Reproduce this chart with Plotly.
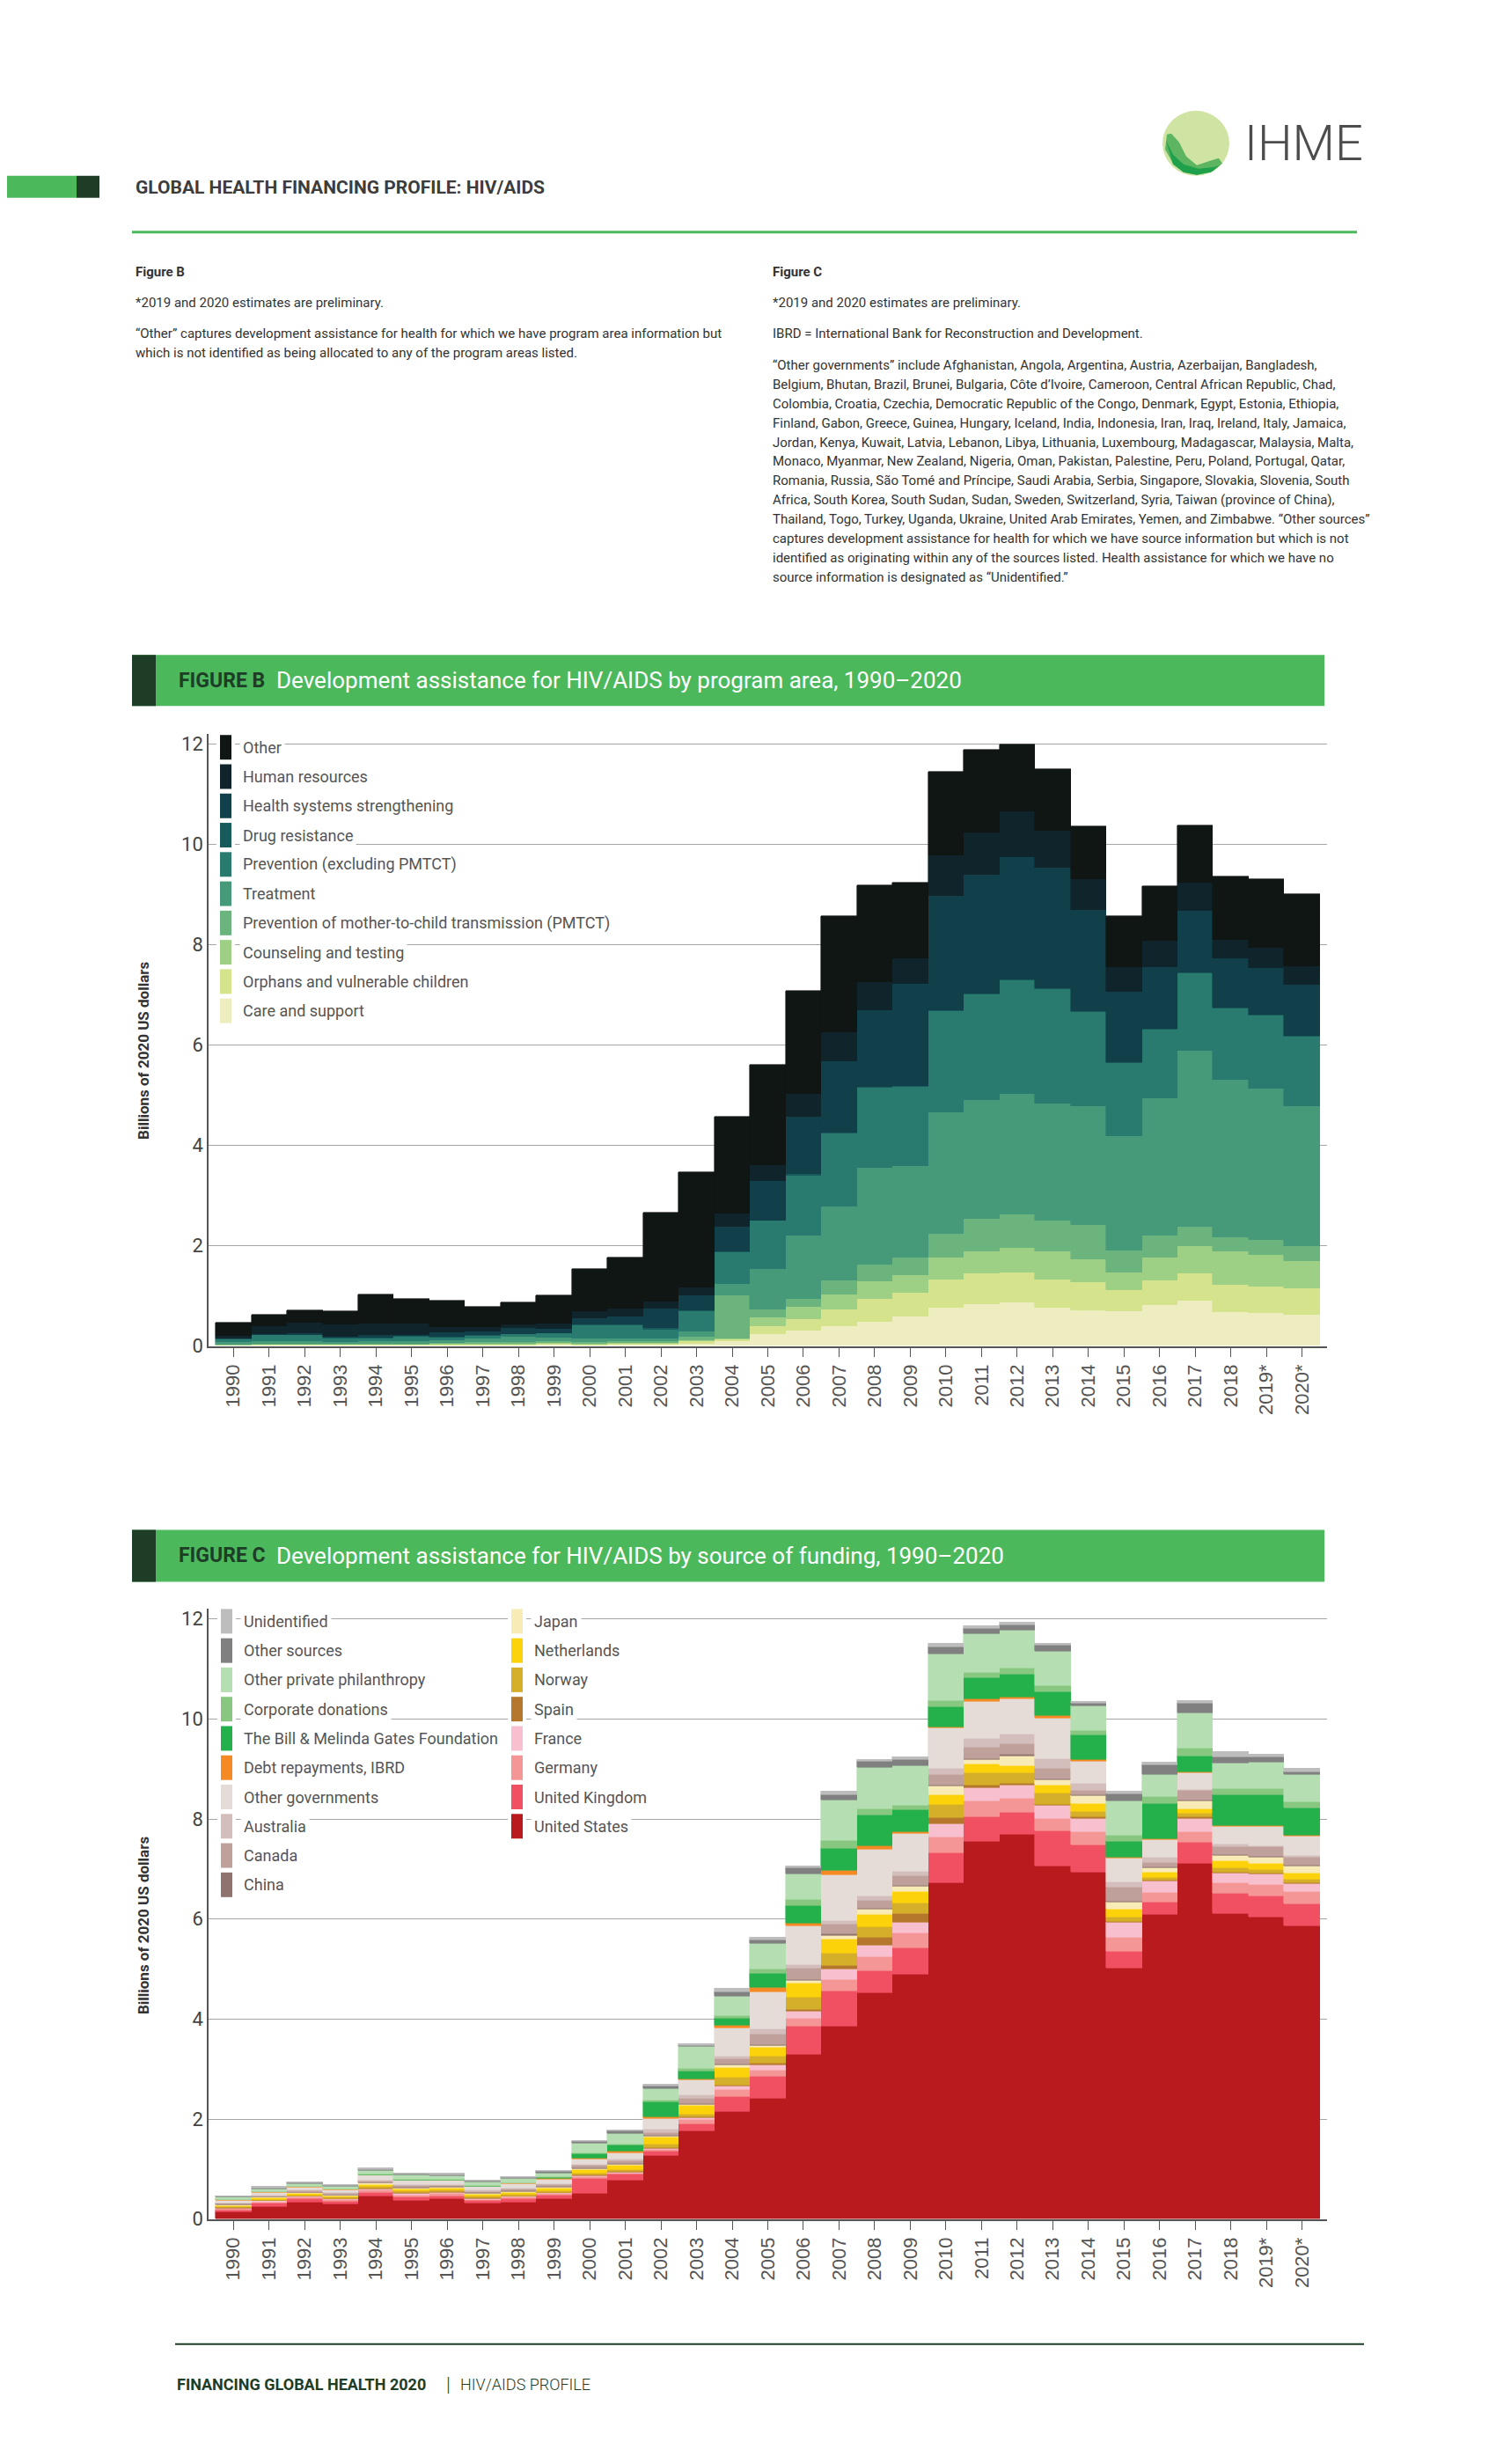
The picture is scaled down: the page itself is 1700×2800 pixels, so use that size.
import plotly.graph_objects as go

OFF = 8            # default page body margin
W, H = 1700 - 2 * OFF, 2800 - 2 * OFF   # figure fits the 1700x2800 page exactly
STRETCH = 0.0042   # small vertical calibration of measured positions

def px(x):
    return (x - OFF) / W

def py(y):
    y = y + (y - 263) * STRETCH
    return 1 - (y - OFF) / H

# ---------------- DATA ----------------
years = ["1990", "1991", "1992", "1993", "1994", "1995", "1996", "1997", "1998", "1999",
         "2000", "2001", "2002", "2003", "2004", "2005", "2006", "2007", "2008", "2009",
         "2010", "2011", "2012", "2013", "2014", "2015", "2016", "2017", "2018", "2019*", "2020*"]

# Figure B: program areas (billions of 2020 US dollars), stacked bottom -> top
care_support = [.005, .01, .01, .01, .01, .01, .01, .01, .01, .02, .01, .02, .02, .04, .10, .24, .30, .40, .48, .58,
                .77, .84, .86, .77, .71, .69, .82, .90, .67, .65, .63]
orphans = [.005, .01, .01, .01, .01, .01, .01, .01, .01, .02, .02, .02, .02, .05, .03, .15, .23, .33, .45, .48,
           .56, .60, .61, .56, .56, .42, .48, .55, .55, .53, .51]
counseling = [.01, .01, .01, .01, .01, .01, .02, .02, .02, .02, .02, .02, .02, .03, .02, .18, .25, .30, .35, .35,
              .43, .45, .49, .56, .45, .35, .46, .54, .66, .64, .55]
pmtct = [.01, .01, .02, .02, .02, .02, .02, .03, .03, .03, .03, .03, .03, .06, .85, .15, .15, .27, .35, .36,
         .48, .65, .67, .60, .69, .45, .44, .39, .28, .29, .30]
treatment = [.05, .05, .04, .03, .04, .04, .06, .07, .12, .08, .06, .06, .06, .10, .23, .81, 1.27, 1.48, 1.92, 1.81,
             2.42, 2.37, 2.40, 2.35, 2.37, 2.28, 2.74, 3.51, 3.15, 3.02, 2.79]
prevention = [.05, .12, .12, .07, .06, .10, .05, .06, .04, .08, .27, .26, .18, .41, .64, .96, 1.20, 1.46, 1.59, 1.59,
              2.02, 2.09, 2.25, 2.27, 1.87, 1.44, 1.36, 1.54, 1.42, 1.45, 1.38]
drug_resistance = [.01, .01, .01, .01, .01, .01, .01, .01, .01, .01, .02, .02, .02, .02, .02, .01, .02, .02, .02, .02,
                   .02, .02, .02, .02, .02, .02, .02, .02, .02, .02, .02]
hss = [.01, .01, .03, .03, .05, .02, .09, .08, .11, .08, .12, .16, .39, .29, .48, .79, 1.14, 1.41, 1.54, 2.03,
       2.27, 2.37, 2.45, 2.40, 2.02, 1.41, 1.23, 1.23, .97, .94, 1.02]
human_resources = [.05, .17, .22, .24, .24, .23, .10, .09, .07, .10, .15, .15, .15, .17, .27, .31, .47, .59, .56, .51,
                   .81, .85, .90, .74, .61, .49, .52, .56, .38, .40, .36]
other_area = [.26, .22, .24, .26, .57, .48, .54, .40, .45, .57, .84, 1.02, 1.77, 2.29, 1.93, 2.01, 2.04, 2.31, 1.92, 1.51,
              1.67, 1.65, 1.34, 1.23, 1.06, 1.02, 1.09, 1.13, 1.26, 1.37, 1.44]

# Figure C: sources of funding, stacked bottom -> top
us = [.14, .26, .35, .30, .47, .38, .41, .32, .35, .41, .51, .79, 1.28, 1.77, 2.15, 2.42, 3.30, 3.86, 4.53, 4.90,
      6.73, 7.55, 7.69, 7.06, 6.94, 5.02, 6.10, 7.11, 6.11, 6.04, 5.86]
uk = [.05, .06, .06, .06, .07, .07, .06, .05, .06, .07, .31, .11, .08, .14, .30, .44, .56, .70, .44, .52,
      .60, .49, .45, .71, .55, .34, .24, .42, .40, .42, .44]
germany = [.02, .03, .03, .03, .04, .04, .04, .03, .03, .03, .03, .02, .04, .08, .15, .12, .16, .24, .28, .30,
           .31, .32, .27, .24, .26, .27, .20, .21, .21, .23, .26]
france = [.01, .02, .02, .02, .03, .03, .03, .02, .02, .02, .02, .02, .02, .04, .07, .11, .14, .20, .23, .21,
          .26, .27, .27, .26, .27, .30, .22, .28, .20, .21, .15]
spain = [.01, .01, .01, .01, .02, .02, .01, .01, .01, .01, .02, .02, .02, .02, .02, .04, .04, .08, .16, .18,
         .13, .06, .03, .02, .02, .02, .02, .02, .02, .02, .02]
norway = [.02, .02, .02, .02, .03, .03, .03, .03, .03, .03, .04, .04, .06, .05, .15, .14, .24, .24, .21, .21,
          .26, .23, .22, .24, .12, .10, .06, .07, .08, .07, .06]
netherlands = [.03, .03, .03, .03, .04, .04, .04, .04, .04, .05, .06, .08, .14, .17, .19, .16, .28, .28, .25, .23,
               .19, .18, .13, .15, .15, .15, .10, .10, .14, .12, .13]
japan = [.01, .01, .01, .01, .02, .02, .02, .02, .02, .02, .02, .02, .02, .03, .05, .04, .06, .08, .10, .10,
         .18, .09, .21, .10, .16, .14, .08, .16, .12, .13, .14]
china = [.01, .01, .01, .01, .01, .01, .01, .01, .01, .01, .01, .01, .01, .02, .02, .02, .02, .02, .02, .02,
         .02, .02, .02, .02, .02, .02, .02, .02, .02, .02, .02]
canada = [.02, .02, .03, .03, .04, .04, .03, .03, .04, .04, .06, .06, .07, .10, .11, .22, .23, .20, .16, .20,
          .21, .23, .22, .21, .08, .28, .10, .19, .15, .19, .16]
australia = [.01, .01, .01, .01, .02, .02, .02, .02, .02, .02, .02, .04, .06, .06, .06, .10, .06, .08, .09, .08,
             .13, .17, .19, .20, .15, .11, .10, .02, .06, .02, .03]
other_governments = [.05, .06, .06, .06, .09, .08, .08, .07, .08, .09, .10, .12, .22, .30, .56, .73, .77, .91, .93, .77,
                     .80, .75, .70, .80, .44, .47, .35, .32, .34, .38, .39]
debt_ibrd = [.01, .01, .01, .01, .01, .01, .01, .01, .01, .01, .02, .03, .02, .02, .04, .10, .06, .08, .06, .02,
             .02, .04, .04, .06, .03, .02, .02, .03, .03, .03, .02]
gates = [0, 0, 0, 0, 0, 0, 0, 0, 0, .03, .09, .12, .30, .16, .14, .27, .35, .45, .62, .44,
         .40, .43, .45, .48, .49, .32, .70, .32, .61, .61, .55]
corporate = [.01, .01, .01, .01, .01, .01, .01, .01, .01, .01, .02, .02, .04, .05, .07, .09, .12, .15, .13, .10,
             .13, .11, .13, .12, .10, .11, .14, .15, .12, .12, .12]
other_private = [.04, .05, .05, .05, .08, .08, .07, .07, .08, .08, .19, .22, .24, .44, .37, .52, .52, .81, .82, .79,
                 .93, .76, .75, .69, .48, .70, .45, .71, .51, .53, .54]
other_sources = [.02, .02, .02, .02, .02, .02, .02, .02, .02, .02, .04, .04, .05, .02, .10, .06, .11, .11, .12, .13,
                 .15, .12, .12, .11, .06, .13, .18, .18, .13, .10, .06]
unidentified = [.01, .02, .02, .02, .03, .03, .03, .03, .03, .03, .02, .03, .03, .03, .06, .05, .04, .06, .05, .05,
                .06, .05, .05, .04, .04, .05, .05, .06, .10, .05, .06]

series_b = [  # bottom -> top
    ("Care and support", care_support, "#EEEDC0"),
    ("Orphans and vulnerable children", orphans, "#D4E38C"),
    ("Counseling and testing", counseling, "#9DCF85"),
    ("Prevention of mother-to-child transmission (PMTCT)", pmtct, "#6CB47E"),
    ("Treatment", treatment, "#469A7A"),
    ("Prevention (excluding PMTCT)", prevention, "#287B6E"),
    ("Drug resistance", drug_resistance, "#175B5C"),
    ("Health systems strengthening", hss, "#11404A"),
    ("Human resources", human_resources, "#10252B"),
    ("Other", other_area, "#101614"),
]

series_c = [  # bottom -> top
    ("United States", us, "#B81A1E"),
    ("United Kingdom", uk, "#F05062"),
    ("Germany", germany, "#F49696"),
    ("France", france, "#F8C0CF"),
    ("Spain", spain, "#B5772B"),
    ("Norway", norway, "#D5AF2A"),
    ("Netherlands", netherlands, "#FCD20A"),
    ("Japan", japan, "#F9EBB5"),
    ("China", china, "#8E736E"),
    ("Canada", canada, "#C0A09A"),
    ("Australia", australia, "#D4BEBC"),
    ("Other governments", other_governments, "#E5DCD8"),
    ("Debt repayments, IBRD", debt_ibrd, "#F58A25"),
    ("The Bill & Melinda Gates Foundation", gates, "#24B04B"),
    ("Corporate donations", corporate, "#88C780"),
    ("Other private philanthropy", other_private, "#B5DEB2"),
    ("Other sources", other_sources, "#808080"),
    ("Unidentified", unidentified, "#BDBDBD"),
]

FONT = "Roboto"
TXT = "#333333"
GREEN = "#4CB85C"
DARK = "#1E3D26"

fig = go.Figure()
for name, vals, col in series_b:
    fig.add_trace(go.Bar(x=years, y=vals, name=name, xaxis="x", yaxis="y",
                         marker=dict(color=col, line=dict(color=col, width=0.6)),
                         showlegend=False, hoverinfo="x+y+name"))
for name, vals, col in series_c:
    fig.add_trace(go.Bar(x=years, y=vals, name=name, xaxis="x2", yaxis="y2",
                         marker=dict(color=col, line=dict(color=col, width=0.6)),
                         showlegend=False, hoverinfo="x+y+name"))

XDOM = [px(237), px(1508)]
B_BOT, B_TOP = 1531, 835
C_BOT, C_TOP = 2524, 1830

xaxis_common = dict(type="category", range=[-0.7, 30.7], tickangle=-90, ticks="outside", ticklen=10,
                    tickcolor="#555555", tickwidth=1, showline=True, linecolor="#555555", linewidth=2,
                    tickfont=dict(family="Liberation Sans", size=22, color="#555555"),
                    showgrid=False, zeroline=False, fixedrange=True)
yaxis_common = dict(range=[0, 12.2], tickvals=[0, 2, 4, 6, 8, 10, 12], showgrid=True, gridcolor="#A6A6A6",
                    gridwidth=1.2, showline=True, linecolor="#555555", linewidth=1.5, ticks="",
                    tickfont=dict(family=FONT, size=22, color="#444444"), zeroline=False, fixedrange=True)

fig.update_layout(
    width=W, height=H, autosize=False,
    margin=dict(l=0, r=0, t=0, b=0),
    paper_bgcolor="white", plot_bgcolor="white",
    barmode="stack", bargap=0, showlegend=False,
    font=dict(family=FONT, color=TXT),
    xaxis=dict(domain=XDOM, anchor="y", **xaxis_common),
    yaxis=dict(domain=[py(B_BOT), py(B_TOP)], anchor="x", **yaxis_common),
    xaxis2=dict(domain=XDOM, anchor="y2", **xaxis_common),
    yaxis2=dict(domain=[py(C_BOT), py(C_TOP)], anchor="x2", **yaxis_common),
)

shapes = []
ann = []

def rect(x0, y0, x1, y1, color, line_color=None, lw=0):
    shapes.append(dict(type="rect", xref="paper", yref="paper", x0=px(x0), x1=px(x1), y0=py(y1), y1=py(y0),
                       fillcolor=color, line=dict(color=line_color or color, width=lw), layer="above"))

def hline(x0, x1, y, color, w):
    shapes.append(dict(type="line", xref="paper", yref="paper", x0=px(x0), x1=px(x1), y0=py(y), y1=py(y),
                       line=dict(color=color, width=w), layer="above"))

def text(x, y, s, size=13, color=TXT, bold=False, anchor="left", bg=None, angle=0, family=FONT, weight=None, pad=1):
    f = dict(family=family, size=size, color=color)
    if bold:
        f["weight"] = "bold"
    elif weight is not None:
        f["weight"] = weight
    a = dict(xref="paper", yref="paper", x=px(x), y=py(y), text=s, showarrow=False, xanchor=anchor,
             yanchor="middle", font=f, textangle=angle, borderpad=pad)
    if bg:
        a["bgcolor"] = bg
    ann.append(a)

# ---------- header ----------
rect(OFF, 200, 87, 225, GREEN)
rect(87, 200, 113, 225, DARK)
text(152, 213, "GLOBAL HEALTH FINANCING PROFILE: HIV/AIDS", size=21, color="#3C3C3C", bold=True)
hline(150, 1542, 264, GREEN, 3)

# IHME logo
shapes.append(dict(type="circle", xref="paper", yref="paper", x0=px(1321), x1=px(1397), y0=py(200), y1=py(126),
                   fillcolor="#CFE4A3", line=dict(width=0), layer="above"))

def path_px(pts):
    return "M " + " L ".join(f"{px(x):.5f},{py(y):.5f}" for x, y in pts) + " Z"

shapes.append(dict(type="path", xref="paper", yref="paper",
                   path=path_px([(1326, 153), (1331, 152), (1340, 162), (1348, 178), (1360, 188), (1375, 183),
                                 (1385, 180), (1389, 186), (1378, 195), (1360, 199), (1345, 196), (1333, 186),
                                 (1324, 170)]),
                   fillcolor="#5DB562", line=dict(width=0), layer="above"))
shapes.append(dict(type="path", xref="paper", yref="paper",
                   path=path_px([(1325, 160), (1333, 176), (1345, 187), (1362, 192), (1380, 190), (1386, 188),
                                 (1376, 196), (1360, 199), (1345, 196), (1333, 187)]),
                   fillcolor="#1FA04B", line=dict(width=0), layer="above"))
text(1412, 163, "IHME", size=56, color="#4D4D4D", weight=300)

# ---------- notes ----------
NS = 15
text(152, 309, "Figure B", size=15, bold=True, color="#333333")
text(152, 344, "*2019 and 2020 estimates are preliminary.", size=NS)
text(152, 379, "“Other” captures development assistance for health for which we have program area information but", size=NS)
text(152, 401, "which is not identified as being allocated to any of the program areas listed.", size=NS)

text(876, 309, "Figure C", size=15, bold=True, color="#333333")
text(876, 344, "*2019 and 2020 estimates are preliminary.", size=NS)
text(876, 379, "IBRD = International Bank for Reconstruction and Development.", size=NS)
notes_c = [
    "“Other governments” include Afghanistan, Angola, Argentina, Austria, Azerbaijan, Bangladesh,",
    "Belgium, Bhutan, Brazil, Brunei, Bulgaria, Côte d’Ivoire, Cameroon, Central African Republic, Chad,",
    "Colombia, Croatia, Czechia, Democratic Republic of the Congo, Denmark, Egypt, Estonia, Ethiopia,",
    "Finland, Gabon, Greece, Guinea, Hungary, Iceland, India, Indonesia, Iran, Iraq, Ireland, Italy, Jamaica,",
    "Jordan, Kenya, Kuwait, Latvia, Lebanon, Libya, Lithuania, Luxembourg, Madagascar, Malaysia, Malta,",
    "Monaco, Myanmar, New Zealand, Nigeria, Oman, Pakistan, Palestine, Peru, Poland, Portugal, Qatar,",
    "Romania, Russia, São Tomé and Príncipe, Saudi Arabia, Serbia, Singapore, Slovakia, Slovenia, South",
    "Africa, South Korea, South Sudan, Sudan, Sweden, Switzerland, Syria, Taiwan (province of China),",
    "Thailand, Togo, Turkey, Uganda, Ukraine, United Arab Emirates, Yemen, and Zimbabwe. “Other sources”",
    "captures development assistance for health for which we have source information but which is not",
    "identified as originating within any of the sources listed. Health assistance for which we have no",
    "source information is designated as “Unidentified.”",
]
for i, line in enumerate(notes_c):
    text(876, 415 + 22 * i, line, size=NS)

# ---------- banners ----------
def banner(y0, y1, label, title):
    rect(150, y0, 1505, y1, GREEN)
    rect(150, y0, 177, y1, DARK)
    yc = (y0 + y1) / 2
    text(201, yc, label, size=23, color=DARK, bold=True)
    text(312, yc, title, size=26, color="white")

banner(745, 803, "FIGURE B", "Development assistance for HIV/AIDS by program area, 1990–2020")
banner(1740, 1799, "FIGURE C", "Development assistance for HIV/AIDS by source of funding, 1990–2020")

# ---------- axis titles ----------
text(163, 1195, "Billions of 2020 US dollars", size=17, bold=True, color="#333333", anchor="center", angle=-90)
text(163, 2190, "Billions of 2020 US dollars", size=17, bold=True, color="#333333", anchor="center", angle=-90)

# ---------- custom legends ----------
ROW = 33.3

def legend_column(items, x_sw, top):
    n = len(items)
    rect(x_sw - 4, top - 3, x_sw + 17, top + ROW * (n - 1) + 31, "white")
    for i, (name, col) in enumerate(items):
        y0 = top + ROW * i
        rect(x_sw, y0, x_sw + 13, y0 + 28, col)
        text(x_sw + 22, y0 + 14, name, size=18, color="#555555", bg="white", pad=3)

legend_b = [(n, c) for n, _, c in reversed(series_b)]
legend_column(legend_b, 250, 836)

legend_c = [(n, c) for n, _, c in reversed(series_c)]
legend_column(legend_c[:10], 251, 1830)
legend_column(legend_c[10:], 581, 1830)

# ---------- footer ----------
hline(199, 1550, 2666, DARK, 2)
text(199, 2712, "FINANCING GLOBAL HEALTH 2020", size=18, color=DARK, bold=True)
text(505, 2712, "|", size=22, color=DARK, weight=300)
text(521, 2712, "HIV/AIDS PROFILE", size=18, color=DARK, weight=300)

fig.update_layout(shapes=shapes, annotations=ann)
fig.write_html("out.html")
